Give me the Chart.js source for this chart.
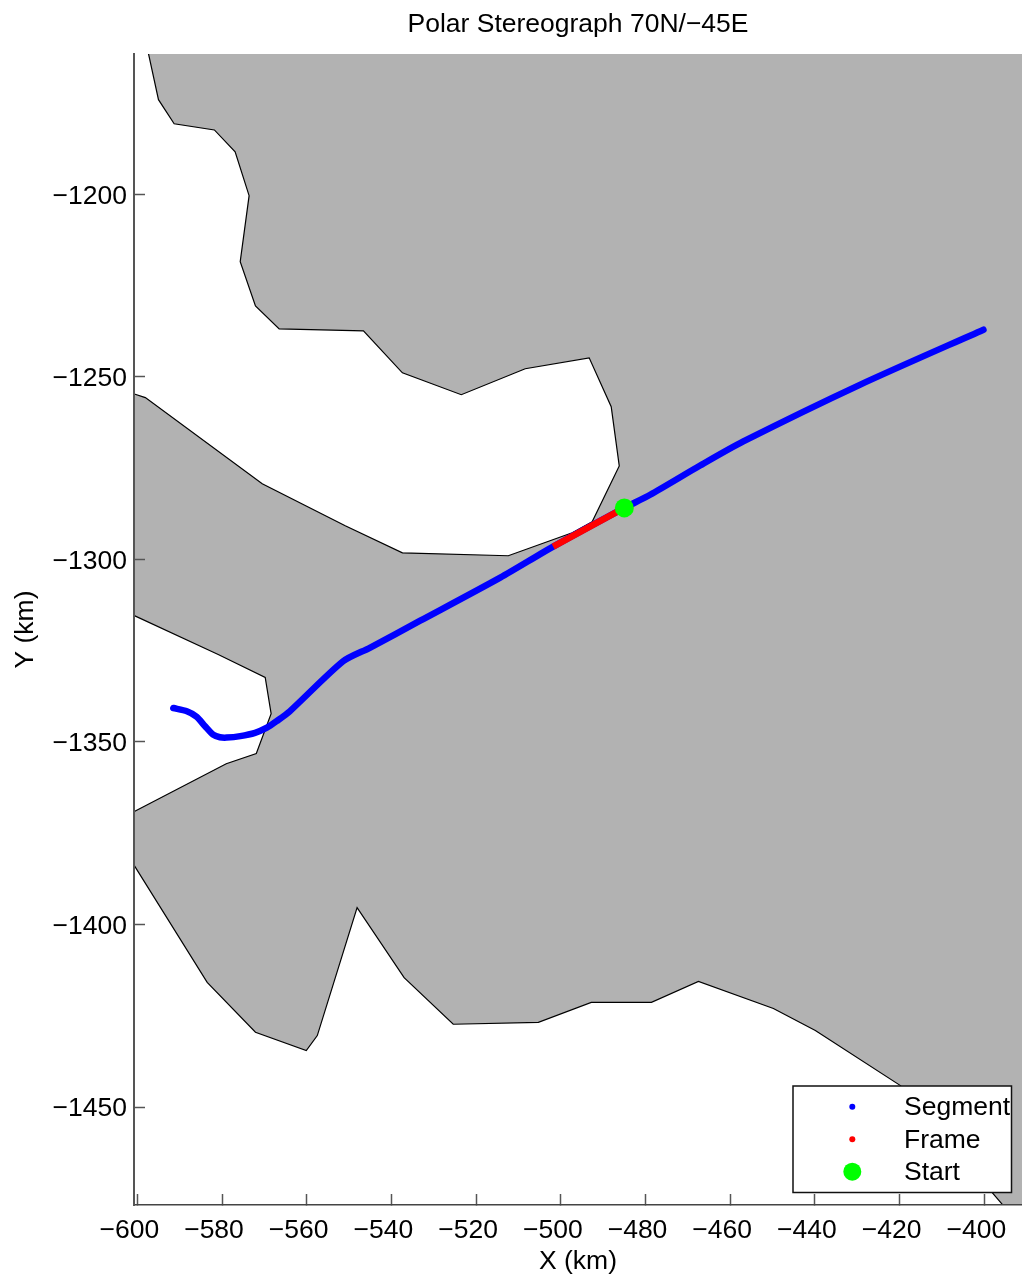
<!DOCTYPE html>
<html>
<head>
<meta charset="utf-8">
<title>Polar Stereograph</title>
<script src="https://cdn.jsdelivr.net/npm/chart.js@4"></script>
<style>
html, body { margin: 0; padding: 0; background: #fff; }
canvas { display: block; }
</style>
</head>
<body>
<canvas id="chart" width="1022" height="1278"></canvas>
<script>
// Coastline outline (km), closed round the outside of the axes
const coastX = [-598.1, -597.4, -595.0, -591.3, -581.8, -576.9, -573.6, -575.7, -572.1, -566.5, -546.6, -537.4, -523.5, -508.4, -493.3, -488.1, -486.2, -492.6, -497.3, -512.4, -537.4, -550.9, -570.5, -598.1, -600.7, -610,
    -610, -600.7, -580.9, -569.8, -568.4, -571.9, -579.0, -600.7, -605,
    -605, -600.7, -583.5, -572.1, -560.1, -557.5, -548.1, -537.0, -525.4, -505.3, -492.8, -478.6, -467.5, -449.8, -439.9, -419.8, -395.7, -386.8,
    -380, -380, -598.1];
const coastY = [-1150, -1161.3, -1174.1, -1180.7, -1182.4, -1188.4, -1200.4, -1218.5, -1230.6, -1236.9, -1237.4, -1248.9, -1254.9, -1247.8, -1244.8, -1258.2, -1274.4, -1289.7, -1292.7, -1299, -1298.2, -1290.8, -1279.3, -1255.7, -1254.7, -1250.3,
    -1310.1, -1315.4, -1326.05, -1332.35, -1342.25, -1353.15, -1355.95, -1369.05, -1372,
    -1374.5, -1383.85, -1415.85, -1429.5, -1434.5, -1430.4, -1395.35, -1414.55, -1427.3, -1426.8, -1421.3, -1421.3, -1415.6, -1423, -1429, -1444.1, -1476.7, -1489,
    -1490, -1150, -1150];

const segmentX = [-400.2, -429.4, -456.9, -467.1, -478.9, -485, -501.8, -514.3, -533.2, -545.1, -551.4, -564, -567.1, -569.4, -572.2, -575.7, -578.9, -580.5, -582.1, -584, -586, -588.3, -591.5];
const segmentY = [-1237.1, -1252.2, -1267.7, -1274.3, -1282.3, -1285.9, -1296.5, -1305, -1316.8, -1324.2, -1327.9, -1341.6, -1344.3, -1346.1, -1347.5, -1348.4, -1348.8, -1348.7, -1348, -1345.7, -1343.1, -1341.6, -1340.7];

const frameX = [-485, -501.8];
const frameY = [-1285.9, -1296.5];

const startX = [-485];
const startY = [-1285.9];

const legendLabels = ['Segment', 'Frame', 'Start'];
const fontFamily = '"Liberation Sans", Arial, sans-serif';

function toPoints(xs, ys) {
    return xs.map((x, i) => ({ x: x, y: ys[i] }));
}

function minusTick(value) {
    return String(value).replace('-', '\u2212');
}

// Legend box sits inside the axes, MATLAB style
const boxLegend = {
    id: 'boxLegend',
    afterDraw(chart) {
        const ctx = chart.ctx;
        const colors = ['#0000ff', '#ff0000', '#00ff00'];
        const sizes = [3, 3, 9];
        const rows = [1106.7, 1139.3, 1171.7];
        ctx.save();
        ctx.fillStyle = '#fff';
        ctx.strokeStyle = '#111';
        ctx.lineWidth = 1.5;
        ctx.fillRect(793, 1086, 218.5, 106.5);
        ctx.strokeRect(793, 1086, 218.5, 106.5);
        ctx.font = '26.5px ' + fontFamily;
        ctx.textBaseline = 'middle';
        legendLabels.forEach((label, i) => {
            ctx.fillStyle = colors[i];
            ctx.beginPath();
            ctx.arc(852.3, rows[i], sizes[i], 0, Math.PI * 2);
            ctx.fill();
            ctx.fillStyle = '#000';
            ctx.fillText(label, 904, rows[i] + 1);
        });
        ctx.restore();
    }
};

new Chart(document.getElementById('chart').getContext('2d'), {
    type: 'scatter',
    plugins: [boxLegend],
    data: {
        datasets: [
            {
                label: 'Coast',
                order: 4,
                data: toPoints(coastX, coastY),
                showLine: true,
                fill: 'shape',
                backgroundColor: '#b2b2b2',
                borderColor: '#000',
                borderWidth: 1.2,
                pointRadius: 0
            },
            {
                label: legendLabels[0],
                order: 3,
                data: toPoints(segmentX, segmentY),
                showLine: true,
                borderColor: '#0000ff',
                borderWidth: 6.5,
                borderCapStyle: 'round',
                borderJoinStyle: 'round',
                tension: 0.25,
                pointRadius: 0
            },
            {
                label: legendLabels[1],
                order: 2,
                data: toPoints(frameX, frameY),
                showLine: true,
                borderColor: '#ff0000',
                borderWidth: 6.5,
                pointRadius: 0
            },
            {
                label: legendLabels[2],
                order: 1,
                data: toPoints(startX, startY),
                showLine: false,
                pointRadius: 9.5,
                pointBackgroundColor: '#00ff00',
                pointBorderWidth: 0
            }
        ]
    },
    options: {
        responsive: false,
        animation: false,
        // the plot runs right to the canvas edge, no room kept for marks or the last label
        layout: { padding: 0, autoPadding: false },
        plugins: {
            legend: { display: false },
            tooltip: { enabled: false },
            title: {
                display: true,
                fullSize: false,
                text: 'Polar Stereograph 70N/\u221245E',
                color: '#000',
                font: { family: fontFamily, size: 26.5, weight: 'normal' },
                padding: { top: 9, bottom: 13.2 }
            }
        },
        scales: {
            x: {
                type: 'linear',
                min: -600.78,
                max: -391.1,
                afterFit(scale) {
                    scale.height = 73;
                    scale.paddingLeft = 0;
                    scale.paddingRight = 0;
                },
                grid: { drawOnChartArea: false, drawTicks: true, tickLength: -11, tickColor: '#555', tickWidth: 1.5, z: 1 },
                border: { color: '#444', width: 1.5, z: 1 },
                ticks: {
                    stepSize: 20,
                    includeBounds: false,
                    maxRotation: 0,
                    autoSkip: false,
                    padding: 21,
                    labelOffset: -8,
                    color: '#000',
                    font: { family: fontFamily, size: 26.5 },
                    callback: minusTick
                },
                title: { display: true, text: 'X (km)', color: '#000', font: { family: fontFamily, size: 26.5 }, padding: 0 }
            },
            y: {
                type: 'linear',
                min: -1476.8,
                max: -1161.6,
                afterFit(scale) {
                    scale.width = 134;
                    scale.paddingTop = 0;
                    scale.paddingBottom = 0;
                },
                grid: { drawOnChartArea: false, drawTicks: true, tickLength: -11, tickColor: '#555', tickWidth: 1.5, z: 1 },
                border: { color: '#555', width: 2, z: 1 },
                ticks: {
                    stepSize: 50,
                    includeBounds: false,
                    autoSkip: false,
                    padding: 18,
                    labelOffset: 2,
                    color: '#000',
                    font: { family: fontFamily, size: 26.5 },
                    callback: minusTick
                },
                title: { display: true, text: 'Y (km)', color: '#000', font: { family: fontFamily, size: 26.5 }, padding: { top: 10 } }
            }
        }
    }
});
</script>
</body>
</html>
